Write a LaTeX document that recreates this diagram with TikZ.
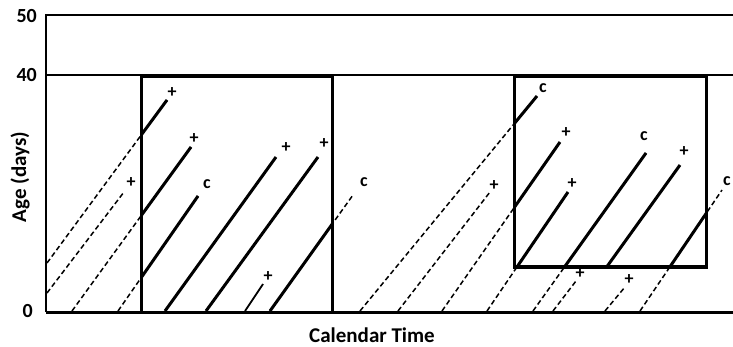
\documentclass[tikz,border=0pt]{standalone}
\usepackage{fontspec}
\setmainfont{Carlito}
\begin{document}
\begin{tikzpicture}[x=1pt,y=-1pt,
  dsh/.style={line width=1.5pt, dash pattern=on 5pt off 3pt},
  sld/.style={line width=3pt},
  thinsld/.style={line width=1.8pt},
  boxln/.style={line width=3pt},
  lbl/.style={font=\bfseries\fontsize{18}{18}\selectfont, inner sep=0pt},
  axnum/.style={font=\bfseries\fontsize{20}{20}\selectfont, inner sep=0pt, anchor=east},
  axlbl/.style={font=\bfseries\fontsize{21}{21}\selectfont, inner sep=0pt}]
\useasboundingbox (0,0) rectangle (733,347);
% axes
\coordinate (o) at (46,312); \coordinate (t) at (46,15); \coordinate (tr) at (733,15);
\coordinate (f) at (46,75); \coordinate (fr) at (733,75); \coordinate (br) at (733,312);
\draw[line width=2.4pt] (o) -- (t) -- (tr);
\draw[line width=1.5pt] (f) -- (fr);
\draw[line width=3pt] (o) -- (br);
\node[axnum] (n50) at (37,16) {50};
\node[axnum] (n40) at (37,75) {40};
\node[axnum] (n0) at (33,311) {0};
\node[axlbl, rotate=90] (ylab) at (20,177) {Age (days)};
\node[axlbl] (xlab) at (372,335) {Calendar Time};
% boxes
\coordinate (A1) at (141,77); \coordinate (A2) at (332,312);
\coordinate (B1) at (514,77); \coordinate (B2) at (706,267);
% life lines
\coordinate (s1) at (47,263);  \coordinate (e1) at (167,100);
\coordinate (s2) at (47,293);  \coordinate (e2) at (124,192);
\coordinate (s3) at (72,311);  \coordinate (e3) at (191,147);
\coordinate (s4) at (118,311); \coordinate (e4) at (198,196);
\coordinate (s5) at (165,311); \coordinate (e5) at (276,157);
\coordinate (s6) at (206,311); \coordinate (e6) at (318,157);
\coordinate (s7) at (245,311); \coordinate (e7) at (263,284);
\coordinate (s8) at (270,311); \coordinate (e8) at (353,195);
\coordinate (s9) at (360,311); \coordinate (e9) at (537,96);
\coordinate (s10) at (398,311); \coordinate (e10) at (490,192);
\coordinate (s11) at (442,311); \coordinate (e11) at (560,142);
\coordinate (s12) at (487,311); \coordinate (e12) at (568,192);
\coordinate (s13) at (533,311); \coordinate (e13) at (646,153);
\coordinate (s14) at (553,311); \coordinate (e14) at (576,281);
\coordinate (s15) at (575,311); \coordinate (e15) at (680,165);
\coordinate (s16) at (605,311); \coordinate (e16) at (625,287);
\coordinate (s17) at (640,311); \coordinate (e17) at (722,190);
% dashed (outside the study windows)
\foreach \i in {1,2,3,4,8,9,10,11,12,13,14,16,17} \draw[dsh] (s\i) -- (e\i);
% solid parts inside the left window
\begin{scope}
  \clip (A1) rectangle (A2);
  \foreach \i in {1,3,4,5,6,8} \draw[sld] (s\i) -- (e\i);
  \draw[thinsld] (s7) -- (e7);
\end{scope}
% solid parts inside the right window
\begin{scope}
  \clip (B1) rectangle (B2);
  \foreach \i in {9,11,12,13,15,17} \draw[sld] (s\i) -- (e\i);
\end{scope}
\draw[boxln] (A1) rectangle (A2);
\draw[boxln] (B1) rectangle (B2);
% end labels
\node[lbl] (l1) at (172,93) {+};
\node[lbl] (l2) at (131,183) {+};
\node[lbl] (l3) at (194,139) {+};
\node[lbl] (l4) at (207,184) {c};
\node[lbl] (l5) at (286,148) {+};
\node[lbl] (l6) at (324,144) {+};
\node[lbl] (l7) at (268,277) {+};
\node[lbl] (l8) at (364,182) {c};
\node[lbl] (l9) at (543,88) {c};
\node[lbl] (l10) at (494,186) {+};
\node[lbl] (l11) at (566,133) {+};
\node[lbl] (l12) at (572,184) {+};
\node[lbl] (l13) at (644,136) {c};
\node[lbl] (l14) at (580,274) {+};
\node[lbl] (l15) at (684,152) {+};
\node[lbl] (l16) at (629,280) {+};
\node[lbl] (l17) at (727,181) {c};
\end{tikzpicture}
\end{document}
